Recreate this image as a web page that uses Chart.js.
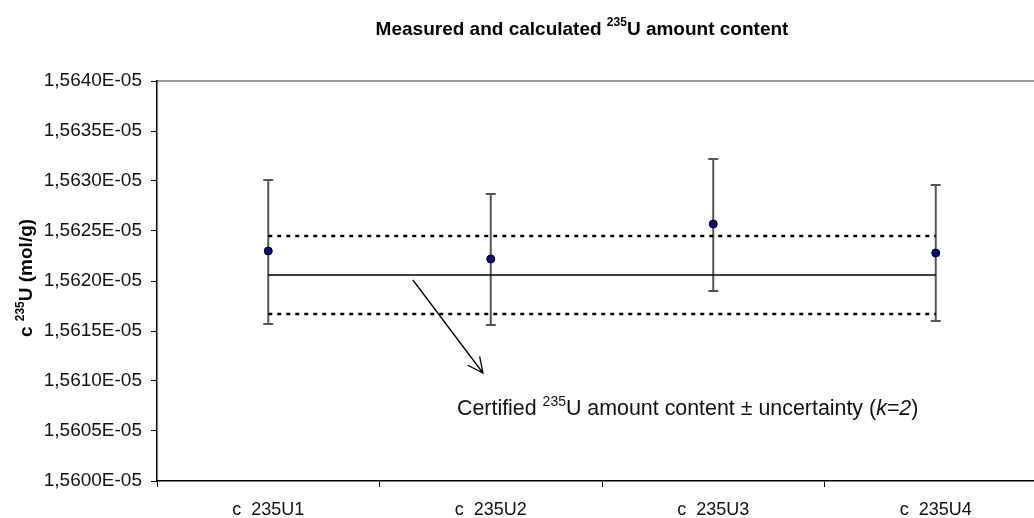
<!DOCTYPE html>
<html>
<head>
<meta charset="utf-8">
<script src="https://cdn.jsdelivr.net/npm/chart.js@4"></script>
<style>
  html, body { margin: 0; padding: 0; background: #fff; overflow: hidden; }
  #wrap { width: 1060px; height: 518px; }
</style>
</head>
<body>
<div id="wrap"><canvas id="myChart" width="1060" height="518"></canvas></div>
<script>
// data
const categories = ['c  235U1', 'c  235U2', 'c  235U3', 'c  235U4'];
const measured = [1.56230e-5, 1.56222e-5, 1.56257e-5, 1.56228e-5];
const upperErr = [1.56301e-5, 1.56287e-5, 1.56322e-5, 1.56296e-5];
const lowerErr = [1.56157e-5, 1.56156e-5, 1.56190e-5, 1.56160e-5];
const certified = [1.56206e-5, 1.56206e-5, 1.56206e-5, 1.56206e-5];
const certUpper = [1.56245e-5, 1.56245e-5, 1.56245e-5, 1.56245e-5];
const certLower = [1.56167e-5, 1.56167e-5, 1.56167e-5, 1.56167e-5];
const yTicks = [1.5600e-5, 1.5605e-5, 1.5610e-5, 1.5615e-5, 1.5620e-5, 1.5625e-5, 1.5630e-5, 1.5635e-5, 1.5640e-5];

const FONT = '"Liberation Sans", Arial, sans-serif';

function fmtTick(v) {
  // 1.5640e-5 -> 1,5640E-05
  let s = v.toExponential(4).split('e');
  let exp = parseInt(s[1], 10);
  let sign = exp < 0 ? '-' : '+';
  let e = String(Math.abs(exp)).padStart(2, '0');
  return s[0].replace('.', ',') + 'E' + sign + e;
}

// draw text made of pieces (for superscripts / italics)
function drawPieces(ctx, pieces, x, y, align) {
  let total = 0;
  pieces.forEach(function(p) { ctx.font = p.font; total += ctx.measureText(p.t).width; });
  let cx = align === 'center' ? x - total / 2 : x;
  ctx.textAlign = 'left';
  ctx.textBaseline = 'alphabetic';
  pieces.forEach(function(p) {
    ctx.font = p.font;
    ctx.fillText(p.t, cx, y + (p.dy || 0));
    cx += ctx.measureText(p.t).width;
  });
}

const errorBars = {
  id: 'errorBars',
  beforeDatasetsDraw(chart) {
    const ctx = chart.ctx;
    const xs = chart.scales.x, ys = chart.scales.y;
    ctx.save();
    ctx.strokeStyle = '#555';
    ctx.lineWidth = 2;
    for (let i = 0; i < measured.length; i++) {
      const px = xs.getPixelForValue(i);
      const top = ys.getPixelForValue(upperErr[i]);
      const bot = ys.getPixelForValue(lowerErr[i]);
      ctx.beginPath();
      ctx.moveTo(px, top); ctx.lineTo(px, bot);
      ctx.moveTo(px - 5, top); ctx.lineTo(px + 5, top);
      ctx.moveTo(px - 5, bot); ctx.lineTo(px + 5, bot);
      ctx.stroke();
    }
    ctx.restore();
  }
};

const decorations = {
  id: 'decorations',
  beforeDraw(chart) {
    const ctx = chart.ctx;
    const a = chart.chartArea;
    ctx.save();
    ctx.strokeStyle = '#999';
    ctx.lineWidth = 2;
    ctx.beginPath();
    ctx.moveTo(a.left, a.top);
    ctx.lineTo(a.right, a.top);
    ctx.stroke();
    ctx.restore();
  },
  afterDraw(chart) {
    const ctx = chart.ctx;
    const xs = chart.scales.x, ys = chart.scales.y;
    ctx.save();
    ctx.fillStyle = '#000';
    // title
    drawPieces(ctx, [
      { t: 'Measured and calculated ', font: 'bold 19px ' + FONT },
      { t: '235', font: 'bold 12px ' + FONT, dy: -9 },
      { t: 'U amount content', font: 'bold 19px ' + FONT }
    ], 582, 35, 'center');

    // y axis title
    ctx.save();
    ctx.translate(32, 278);
    ctx.rotate(-Math.PI / 2);
    drawPieces(ctx, [
      { t: 'c ', font: 'bold 19px ' + FONT },
      { t: '235', font: 'bold 12px ' + FONT, dy: -8 },
      { t: 'U (mol/g)', font: 'bold 19px ' + FONT }
    ], 0, 0, 'center');
    ctx.restore();

    // arrow in data coordinates
    const x0 = xs.getPixelForValue(0.65), y0 = ys.getPixelForValue(1.56201e-5);
    const x1 = xs.getPixelForValue(0.965), y1 = ys.getPixelForValue(1.56108e-5);
    const ang = Math.atan2(y1 - y0, x1 - x0);
    ctx.strokeStyle = '#000';
    ctx.lineWidth = 1.3;
    ctx.beginPath();
    ctx.moveTo(x0, y0); ctx.lineTo(x1, y1);
    ctx.moveTo(x1 - 17 * Math.cos(ang - 0.45), y1 - 17 * Math.sin(ang - 0.45));
    ctx.lineTo(x1, y1);
    ctx.lineTo(x1 - 17 * Math.cos(ang + 0.45), y1 - 17 * Math.sin(ang + 0.45));
    ctx.stroke();

    // annotation text
    ctx.fillStyle = '#111';
    drawPieces(ctx, [
      { t: 'Certified ', font: '21.4px ' + FONT },
      { t: '235', font: '14px ' + FONT, dy: -9 },
      { t: 'U amount content \u00b1 uncertainty (', font: '21.4px ' + FONT },
      { t: 'k=2', font: 'italic 21.4px ' + FONT },
      { t: ')', font: '21.4px ' + FONT }
    ], 457, 415, 'left');
    ctx.restore();
  }
};

const ctx = document.getElementById('myChart');
new Chart(ctx, {
  type: 'line',
  data: {
    labels: categories,
    datasets: [
      {
        label: 'measured',
        data: measured,
        showLine: false,
        pointRadius: 4,
        pointBackgroundColor: '#000080',
        pointBorderColor: '#000',
        pointBorderWidth: 1,
        order: 0
      },
      {
        label: 'certified',
        data: certified,
        borderColor: '#000',
        borderWidth: 1.5,
        pointRadius: 0,
        order: 1
      },
      {
        label: 'certified + U',
        data: certUpper,
        borderColor: '#000',
        borderWidth: 2.5,
        borderDash: [4, 5],
        pointRadius: 0,
        order: 1
      },
      {
        label: 'certified - U',
        data: certLower,
        borderColor: '#000',
        borderWidth: 2.5,
        borderDash: [4, 5],
        pointRadius: 0,
        order: 1
      }
    ]
  },
  options: {
    responsive: false,
    animation: false,
    devicePixelRatio: 1,
    layout: { padding: { left: 0, top: 81, right: 13, bottom: 0 } },
    plugins: {
      legend: { display: false },
      tooltip: { enabled: false },
      title: { display: false }
    },
    scales: {
      x: {
        type: 'category',
        offset: true,
        grid: { offset: true, drawOnChartArea: false, drawTicks: true, tickLength: 6, color: '#000', lineWidth: 1 },
        border: { display: true, color: '#000', width: 1.5 },
        ticks: { color: '#111', font: { family: FONT, size: 18 }, padding: 12, maxRotation: 0, autoSkip: false },
        afterFit(scale) { scale.height = 37; }
      },
      y: {
        min: yTicks[0],
        max: yTicks[yTicks.length - 1],
        afterBuildTicks(scale) { scale.ticks = yTicks.map(function(v) { return { value: v }; }); },
        grid: { drawOnChartArea: false, drawTicks: true, tickLength: 6, color: '#000', lineWidth: 1 },
        border: { display: true, color: '#000', width: 1.5 },
        ticks: {
          color: '#111',
          font: { family: FONT, size: 19 },
          padding: 9,
          callback: function(v) { return fmtTick(v); }
        },
        afterFit(scale) { scale.width = 157; }
      }
    }
  },
  plugins: [errorBars, decorations]
});
</script>
</body>
</html>
